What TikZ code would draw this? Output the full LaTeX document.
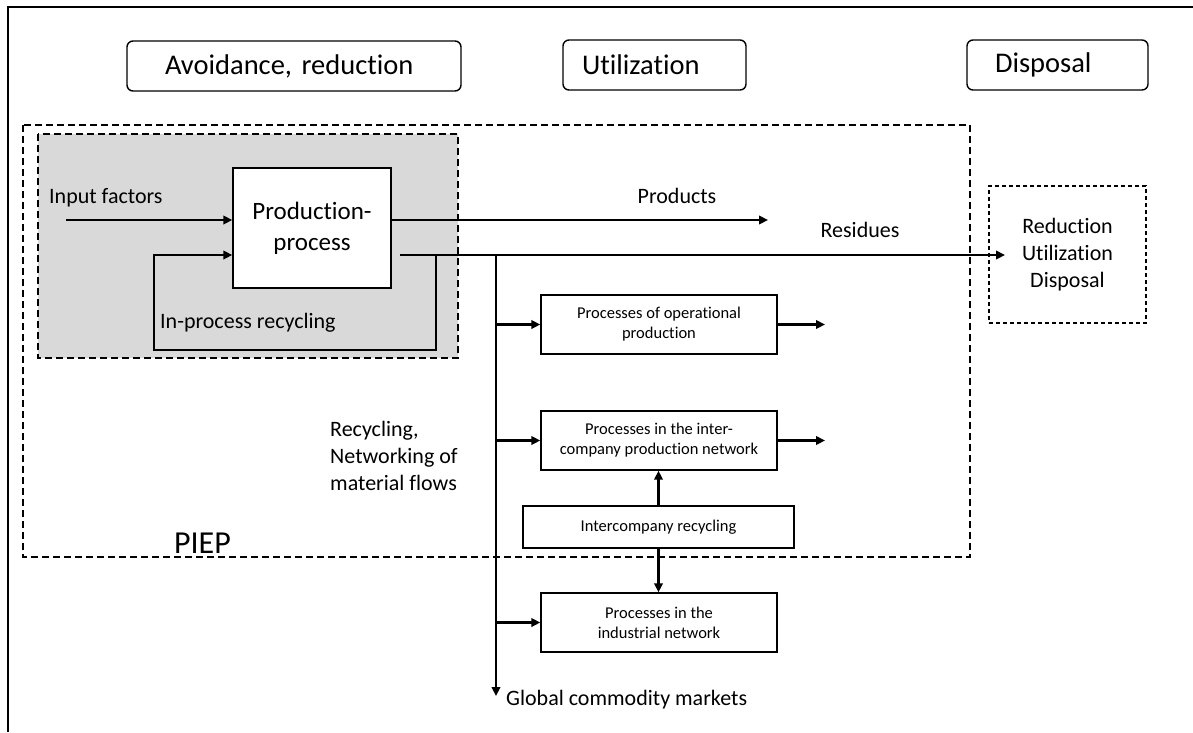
\documentclass[tikz,border=0pt]{standalone}
\usepackage{fontspec}
\setmainfont{Carlito}[Ligatures=NoCommon]
\usetikzlibrary{arrows.meta}
\definecolor{greyfill}{HTML}{D9D9D9}
\begin{document}
\begin{tikzpicture}[x=1pt,y=-1pt,
  thinline/.style={line width=1.4pt},
  arr/.style={line width=2.9pt,-{Triangle[length=9pt,width=8.5pt]}},
  hdr/.style={draw,thinline,rounded corners=6pt,minimum height=50pt,inner ysep=0pt,align=left,font=\fontsize{28.5}{32}\selectfont},
  pbox/.style={draw,thinline,fill=white,inner sep=0pt,align=center,minimum width=236pt,minimum height=59pt,font=\fontsize{16.5}{20}\selectfont},
  lbl/.style={inner sep=0pt,font=\fontsize{22}{27}\selectfont},
  longdash/.style={thinline,dash pattern=on 7pt off 4pt},
  shortdash/.style={thinline,dash pattern=on 4pt off 3pt}]
\useasboundingbox (0,0) rectangle (1193,732);
% frame
\draw[thinline] (8,732) -- (8,7) -- (1193,7);
% headers
\node[hdr,inner xsep=38pt,text width=258pt] (avoid) at (294,66) {Avoidance, reduction};
\node[hdr,inner xsep=19pt,text width=145pt] (util) at (654.5,65) {Utilization};
\node[hdr,inner xsep=28pt,text width=125pt] (disp) at (1057.5,65) {Disposal};
% PIEP region
\draw[longdash] (23,125) rectangle (970,557);
\node[inner sep=0pt,anchor=base,font=\fontsize{32}{36}\selectfont] (piep) at (202.5,553) {PIEP};
% grey in-process region
\draw[longdash,fill=greyfill] (38,134) rectangle (458,358);
% production process
\node[draw,thinline,fill=white,minimum width=158pt,minimum height=120pt,inner sep=0pt,align=center,font=\fontsize{25}{31}\selectfont] (prod) at (312,228) {Production-\\process};
\coordinate (inA) at (66,220);
\draw[arr] (inA) -- (inA -| prod.west);
\node[lbl,anchor=base west] (inlbl) at (49,203) {Input factors};
\coordinate (prodEnd) at (768,220);
\draw[arr] (prodEnd -| prod.east) -- (prodEnd);
\node[lbl,anchor=base] (prodlbl) at (677,203) {Products};
% residues
\node[draw,shortdash,minimum width=157pt,minimum height=137pt,inner sep=0pt,align=center,font=\fontsize{22}{27}\selectfont] (res) at (1067.5,254.5) {Reduction\\Utilization\\Disposal};
\coordinate (resStart) at (400,255);
\coordinate (loopTop) at (436,255);
\coordinate (jt) at (496,255);
\coordinate (resEnd) at (1005,255);
\draw[arr] (resStart) -- (resEnd);
\node[lbl,anchor=base] (reslbl) at (860,237) {Residues};
% in-process recycling loop
\coordinate (loopA) at (436,350);
\coordinate (loopB) at (154,350);
\coordinate (loopC) at (154,255);
\draw[arr] (loopTop) -- (loopA) -- (loopB) -- (loopC) -- (loopC -| prod.west);
\node[lbl,anchor=base west] (looplbl) at (160,328) {In-process recycling};
% trunk
\coordinate (jb) at (496,696);
\draw[arr] (jt) -- (jb);
\node[lbl,anchor=base west] (glob) at (506,705) {Global commodity markets};
\node[lbl,anchor=north west,align=left] (recy) at (330,421) {Recycling,\\Networking of\\material flows};
% process boxes
\node[pbox] (op) at (659,324.5) {Processes of operational\\production};
\node[pbox] (inter) at (659,440.5) {Processes in the inter-\\company production network};
\node[pbox,minimum width=271pt,minimum height=42pt] (icr) at (658.5,527) {Intercompany recycling};
\node[pbox] (ind) at (659,622.5) {Processes in the\\industrial network};
\coordinate (opOut) at (825,324.5);
\coordinate (interOut) at (825,440.5);
\draw[arr] (jt |- op.west) -- (op.west);
\draw[arr] (op.east) -- (opOut);
\draw[arr] (jt |- inter.west) -- (inter.west);
\draw[arr] (inter.east) -- (interOut);
\draw[arr] (jt |- ind.west) -- (ind.west);
\draw[arr] (icr.north) -- (icr.north |- inter.south);
\draw[arr] (icr.south) -- (icr.south |- ind.north);
\end{tikzpicture}
\end{document}
